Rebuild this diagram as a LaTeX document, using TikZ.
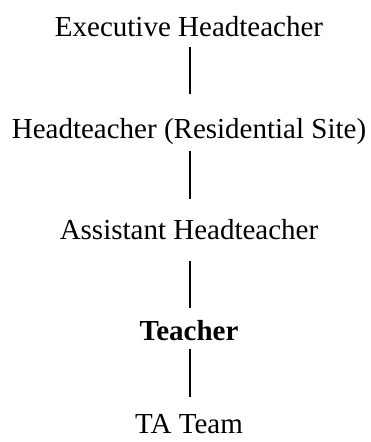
\documentclass[tikz,border=0pt]{standalone}
\usepackage{fontspec}
\setmainfont{Liberation Serif}
\tikzset{
  post/.style={inner sep=0pt, anchor=base, font=\fontsize{14.5}{17}\selectfont},
  link/.style={line width=1pt}
}

\begin{document}
\begin{tikzpicture}[x=0.5pt,y=0.5pt]
    \useasboundingbox (0,0) rectangle (370,442);
    %
    \node[post] (exec)    at (189,405) {Executive Headteacher};
    \node[post] (head)    at (189,303) {Headteacher (Residential Site)};
    \node[post] (asst)    at (189,202) {Assistant Headteacher};
    \node[post] (teacher) at (189,101) {\textbf{Teacher}};
    \node[post] (ta)      at (189,8)   {TA Team};
    %
    \draw[link] ([xshift=0.5pt,yshift=-5pt]exec.base) -- ([xshift=0.5pt,yshift=22.5pt]head.base);
    \draw[link] ([xshift=0.5pt,yshift=-6pt]head.base) -- ([xshift=0.5pt,yshift=20.5pt]asst.base);
    \draw[link] ([xshift=0.5pt,yshift=-10.5pt]asst.base) -- ([xshift=0.5pt,yshift=16.5pt]teacher.base);
    \draw[link] ([xshift=0.5pt,yshift=-4pt]teacher.base) -- ([xshift=0.5pt,yshift=18.5pt]ta.base);
\end{tikzpicture}
\end{document}
